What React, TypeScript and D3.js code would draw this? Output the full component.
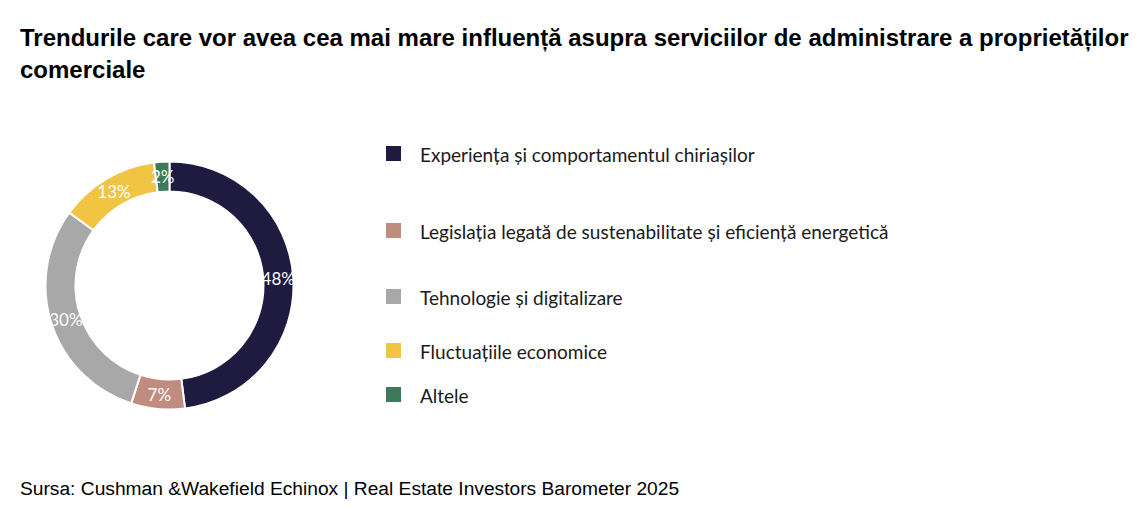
import { useMemo } from "react";
import * as d3 from "d3";

const categories = [
  "Experiența și comportamentul chiriașilor",
  "Legislația legată de sustenabilitate și eficiență energetică",
  "Tehnologie și digitalizare",
  "Fluctuațiile economice",
  "Altele",
];
const values = [48, 7, 30, 13, 2];
const colors = ["#1e1a40", "#c08c80", "#a8a8a8", "#f2c443", "#3c7a5b"];
const titleLines = [
  "Trendurile care vor avea cea mai mare influență asupra serviciilor de administrare a proprietăților",
  "comerciale",
];
const sourceText = "Sursa: Cushman &Wakefield Echinox | Real Estate Investors Barometer 2025";

const W = 1147;
const H = 509;

export default function App() {
  const cx = 169.5;
  const cy = 285.5;
  const outerR = 124;
  const innerR = 94;

  const slices = useMemo(
    () =>
      d3
        .pie<number>()
        .sort(null)
        .value((d) => d)(values),
    []
  );
  const arc = d3.arc<d3.PieArcDatum<number>>().innerRadius(innerR).outerRadius(outerR);

  // legend rows are not evenly spaced in the original
  const legendY = d3
    .scaleOrdinal<string, number>()
    .domain(categories)
    .range([154, 231, 297, 351, 395]);

  return (
    <div style={{ position: "fixed", left: 0, top: 0, background: "#fff" }}>
      <svg width={W} height={H} style={{ display: "block" }}>
        <rect width={W} height={H} fill="#fff" />
        {titleLines.map((t, i) => (
          <text
            key={i}
            x={20}
            y={46 + i * 32}
            fontFamily="'Liberation Sans', Arial, sans-serif"
            fontWeight="bold"
            fontSize={24}
            fill="#000"
          >
            {t}
          </text>
        ))}

        <g transform={`translate(${cx},${cy})`}>
          {slices.map((s, i) => (
            <path key={i} d={arc(s) || ""} fill={colors[i]} stroke="#fff" strokeWidth={2} />
          ))}
          {slices.map((s, i) => {
            const [x, y] = arc.centroid(s);
            return (
              <text
                key={i}
                x={x}
                y={y}
                textAnchor="middle"
                dominantBaseline="central"
                fontFamily="Lato, 'Open Sans', sans-serif"
                fontSize={17}
                fill="#fff"
              >
                {values[i]}%
              </text>
            );
          })}
        </g>

        {categories.map((c, i) => (
          <g key={c} transform={`translate(386,${legendY(c)})`}>
            <rect x={0} y={-8} width={15} height={15} fill={colors[i]} />
            <text
              x={34}
              y={0}
              dominantBaseline="central"
              fontFamily="Lato, 'Open Sans', sans-serif"
              fontSize={19}
              fill="#1a1a1a"
            >
              {c}
            </text>
          </g>
        ))}

        <text
          x={20}
          y={495}
          fontFamily="'Liberation Sans', Arial, sans-serif"
          fontSize={19.2}
          fill="#000"
        >
          {sourceText}
        </text>
      </svg>
    </div>
  );
}
